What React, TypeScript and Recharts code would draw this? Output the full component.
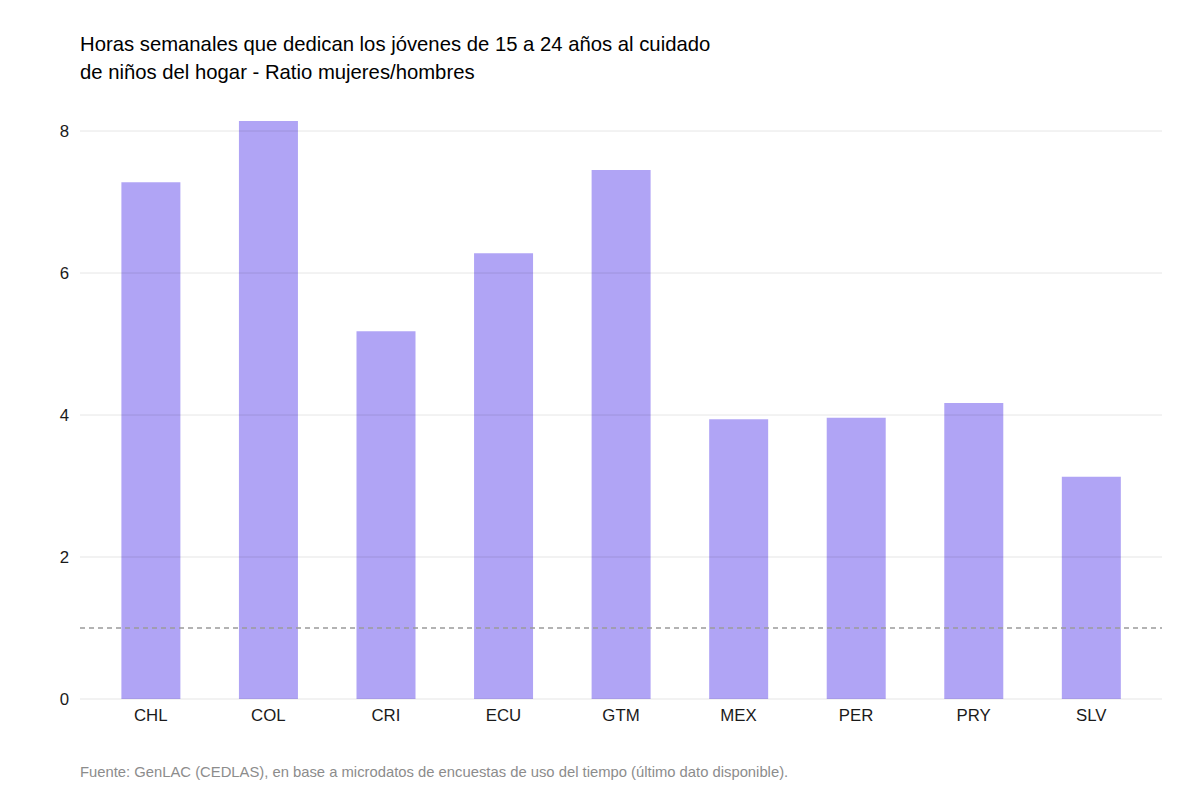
import { BarChart, Bar, XAxis, YAxis, ReferenceLine } from 'recharts';

const countries = ['CHL', 'COL', 'CRI', 'ECU', 'GTM', 'MEX', 'PER', 'PRY', 'SLV'];
const ratios = [7.28, 8.14, 5.18, 6.28, 7.45, 3.94, 3.96, 4.17, 3.13];
const yTicks = [0, 2, 4, 6, 8];
const parity = 1;

const data = countries.map((c, i) => ({ pais: c, ratio: ratios[i] }));

const font = '"Liberation Sans", Arial, Helvetica, sans-serif';

export default function App() {
  return (
    <div style={{ position: 'absolute', left: 0, top: 0, width: 1200, height: 800, background: '#fff', fontFamily: font }}>
      <div style={{ position: 'absolute', left: 80, top: 30, fontSize: 20.3, lineHeight: '28px', color: '#000' }}>
        Horas semanales que dedican los jóvenes de 15 a 24 años al cuidado
        <br />
        de niños del hogar - Ratio mujeres/hombres
      </div>
      <BarChart
        width={1200}
        height={800}
        data={data}
        margin={{ top: 92, right: 38, bottom: 71, left: 0 }}
        barCategoryGap="25%"
      >
        {/* grid drawn as faint lines; partly see-through so bars show them like the original */}
        {yTicks.map((t) => (
          <ReferenceLine key={t} y={t} stroke="#000" strokeOpacity={0.1} strokeWidth={1} />
        ))}
        <XAxis
          dataKey="pais"
          height={30}
          axisLine={false}
          tickLine={false}
          tickSize={0}
          tickMargin={10}
          padding={{ left: 12, right: 12 }}
          tick={{ fill: '#1a1a1a', fontSize: 16.8, fontFamily: font }}
        />
        <YAxis
          type="number"
          width={80}
          domain={[0, 8.55]}
          ticks={yTicks}
          allowDataOverflow
          axisLine={false}
          tickLine={false}
          tickSize={0}
          tickMargin={11}
          tick={{ fill: '#1a1a1a', fontSize: 16.8, fontFamily: font }}
        />
        <Bar dataKey="ratio" fill="#7B68EE" fillOpacity={0.6} isAnimationActive={false} />
        <ReferenceLine y={parity} stroke="#9a9a9a" strokeWidth={1.5} strokeDasharray="5 4" />
      </BarChart>
      <div style={{ position: 'absolute', left: 80, top: 764, fontSize: 14.8, color: '#8c8c8c' }}>
        Fuente: GenLAC (CEDLAS), en base a microdatos de encuestas de uso del tiempo (último dato disponible).
      </div>
    </div>
  );
}
